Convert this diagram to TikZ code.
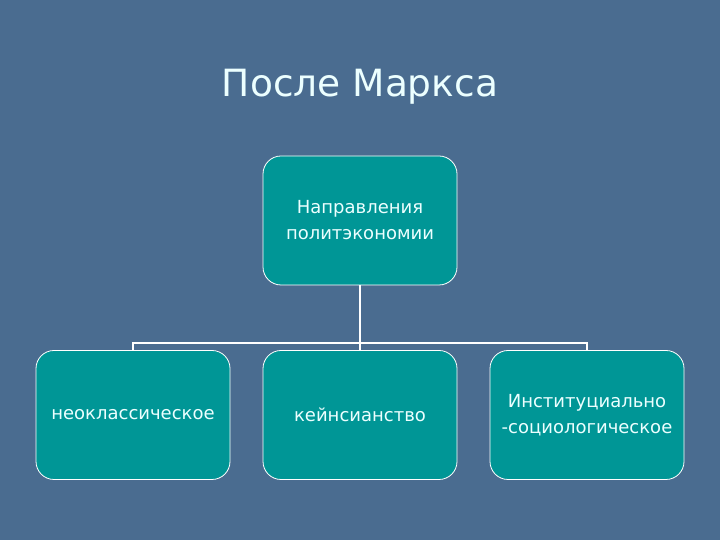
\documentclass[tikz,border=0pt]{standalone}
\usepackage{fontspec}
\setmainfont{DejaVu Sans}
\definecolor{slidebg}{RGB}{74,108,144}
\definecolor{boxteal}{RGB}{0,150,150}
\definecolor{textwhite}{RGB}{236,255,255}
\begin{document}
\begin{tikzpicture}[x=1pt,y=1pt,
  branch/.style={draw=white,line width=0.8pt,fill=boxteal,rounded corners=18pt,
    minimum width=194pt,minimum height=129pt,text=textwhite,align=center,
    font=\fontsize{18}{26}\selectfont},
  link/.style={draw=white,line width=1.6pt}]
\fill[slidebg] (0,0) rectangle (720,540);
\node[text=textwhite,font=\fontsize{37.5}{45}\selectfont] (title) at (360,453){После Маркса};
\node[branch] (root) at (360,319.5){Направления\\политэкономии};
\node[branch] (neo) at (133,125){неоклассическое};
\node[branch] (keyn) at (360,125){кейнсианство};
\node[branch] (inst) at (587,125){Институциально\\-социологическое};
\coordinate (bar) at (360,197);
\draw[link] (root.south) -- (bar);
\draw[link] (neo.north) |- (bar) -| (inst.north);
\draw[link] (bar) -- (keyn.north);
\end{tikzpicture}
\end{document}
